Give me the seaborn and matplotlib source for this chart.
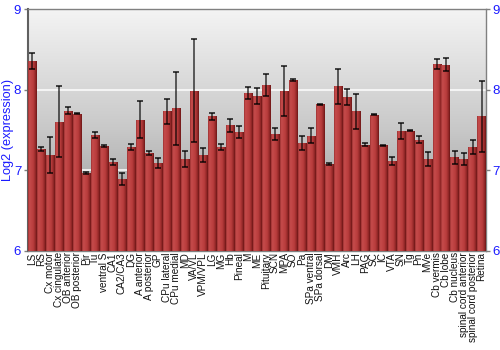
import numpy as np
import pandas as pd
import matplotlib
matplotlib.use("Agg")
import matplotlib.pyplot as plt
import seaborn as sns
from matplotlib.colors import LinearSegmentedColormap

regions = ["LS", "RS", "Cx motor", "Cx cingulate", "OB anterior", "OB posterior", "Pir", "Tu",
           "ventral S", "CA1", "CA2/CA3", "DG", "A anterior", "A posterior", "GP", "CPu lateral",
           "CPu medial", "MD", "VA/VL", "VPM/VPL", "LG", "MG", "Hb", "Pineal", "M", "ME",
           "Pituitary", "SCN", "MPA", "SO", "Pa", "SPa ventral", "SPa dorsal", "DM", "VMH", "Arc",
           "LH", "PAG", "SC", "IC", "VTA", "SN", "Tg", "Pn", "MVe", "Cb vermis", "Cb lobe",
           "Cb nucleus", "spinal cord anterior", "spinal cord posterior", "Retina"]
values = [8.355, 7.27, 7.19, 7.60, 7.74, 7.70, 6.97, 7.44, 7.30, 7.10, 6.89, 7.29, 7.63, 7.21,
          7.09, 7.73, 7.77, 7.14, 7.99, 7.19, 7.67, 7.29, 7.56, 7.475, 7.96, 7.917, 8.06, 7.45,
          7.98, 8.12, 7.34, 7.43, 7.82, 7.08, 8.04, 7.91, 7.73, 7.32, 7.69, 7.31, 7.11, 7.49,
          7.49, 7.38, 7.14, 8.32, 8.31, 7.16, 7.14, 7.29, 7.67]
errors = [0.10, 0.025, 0.22, 0.44, 0.045, 0.005, 0.01, 0.04, 0.015, 0.04, 0.075, 0.04, 0.235,
          0.025, 0.065, 0.155, 0.45, 0.10, 0.64, 0.085, 0.04, 0.04, 0.08, 0.08, 0.075, 0.10,
          0.14, 0.07, 0.31, 0.017, 0.085, 0.09, 0.005, 0.012, 0.215, 0.095, 0.22, 0.022, 0.005,
          0.01, 0.05, 0.10, 0.005, 0.045, 0.087, 0.065, 0.08, 0.083, 0.072, 0.09, 0.44]
yticks = [6, 7, 8, 9]

df = pd.DataFrame({"region": regions, "value": values, "err": errors})

sns.set_theme(style="white")
plt.rcParams['font.family'] = ['Liberation Sans', 'DejaVu Sans']

fig, ax = plt.subplots(figsize=(5, 3.5), dpi=100)
fig.subplots_adjust(left=0.055, right=0.972, top=0.974, bottom=0.283)

sns.barplot(data=df, x="region", y="value", color="#b83c3c", width=0.9,
            errorbar=None, ax=ax, zorder=3, edgecolor="none")

ymin, ymax = 6, 9
n = len(regions)

# background gradient
bg = LinearSegmentedColormap.from_list("bg", ["#f4f4f4", "#c8c8c8", "#8e8e8e"])
ax.imshow(np.linspace(0, 1, 256).reshape(-1, 1), cmap=bg, aspect="auto",
          extent=(-0.5, n - 0.5, ymin, ymax), origin="upper", zorder=0)

# white grid lines
for yv in [7, 8]:
    ax.axhline(yv, color="white", lw=1.2, alpha=0.9, zorder=1)

# bar gradient fill clipped to bar patches (only within visible range)
barcm = LinearSegmentedColormap.from_list(
    "bar", [(0.0, "#9a3030"), (0.15, "#c64c4c"), (0.6, "#b83c3c"), (0.88, "#8c2424"), (1.0, "#6a1515")])
grad = np.linspace(0, 1, 64).reshape(1, -1)
for p in list(ax.patches):
    x0, y0 = p.get_x(), p.get_y()
    w, h = p.get_width(), p.get_height()
    top = min(y0 + h, ymax)
    im = ax.imshow(grad, cmap=barcm, aspect="auto", extent=(x0, x0 + w, max(y0, ymin), top),
                   zorder=3.5)
    im.set_clip_path(p)

ax.errorbar(np.arange(n), df["value"], yerr=df["err"], fmt="none", ecolor="black",
            alpha=0.7, elinewidth=1.2, capsize=2.2, capthick=1.4, zorder=5)

ax.set_xlim(-0.5, n - 0.5)
ax.set_ylim(ymin, ymax)
ax.set_yticks(yticks)
ax.set_yticklabels([str(t) for t in yticks])
ax.tick_params(axis="y", which="both", left=True, right=True, labelleft=True, labelright=True,
               length=3, width=1, color="#808080", labelcolor="#1a1aff", labelsize=9.5, pad=1.5)
ax.tick_params(axis="x", length=0, labelsize=7.2, pad=1, labelcolor="#111111")
plt.setp(ax.get_xticklabels(), rotation=90)
ax.set_xlabel("")
ax.set_ylabel("Log2 (expression)", color="#1a1aff", fontsize=9.2, labelpad=0)

for side in ["left", "top", "right", "bottom"]:
    ax.spines[side].set_visible(True)
    ax.spines[side].set_color("#808080")
    ax.spines[side].set_linewidth(1)
ax.spines["left"].set_color("#606060")
ax.spines["left"].set_linewidth(1.5)

fig.savefig("out.png", dpi=100)
